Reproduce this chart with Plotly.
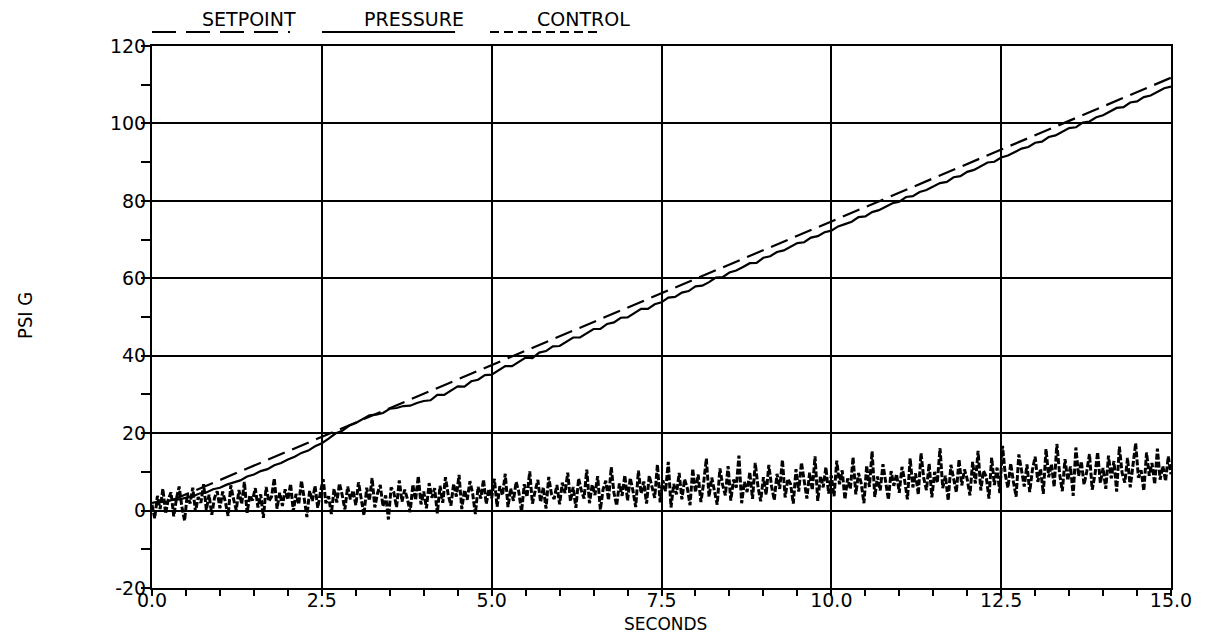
import plotly.graph_objects as go

# ---------------- data ----------------
setpoint_t = [0.3, 2.5, 5.0, 7.5, 10.0, 12.5, 15.0]
setpoint_v = [2.7, 19.0, 37.6, 56.1, 74.7, 93.2, 111.8]

PRESSURE_DT = 0.1
pressure_v = [
    2.0, 2.3, 2.2, 2.8, 2.9, 3.4, 3.7, 4.4, 4.7, 5.5,
    5.9, 6.7, 7.2, 7.8, 8.8, 9.3, 10.2, 10.7, 11.7, 12.3,
    13.2, 13.9, 14.9, 15.5, 16.6, 17.4, 18.6, 19.9, 20.6, 21.9,
    22.6, 23.7, 24.6, 24.8, 25.2, 26.3, 26.5, 27.0, 27.1, 27.8,
    28.3, 28.5, 29.9, 29.9, 31.1, 32.1, 32.0, 33.4, 33.8, 35.0,
    35.1, 36.1, 37.3, 37.3, 38.5, 39.5, 39.4, 40.8, 41.2, 42.4,
    42.5, 43.5, 44.7, 44.7, 45.9, 46.9, 46.9, 48.2, 48.6, 49.8,
    49.9, 51.0, 52.1, 52.1, 53.3, 53.8, 55.0, 55.2, 56.3, 56.7,
    57.9, 58.1, 59.0, 60.2, 60.3, 61.5, 62.0, 62.9, 63.9, 64.0,
    65.3, 65.7, 66.8, 67.2, 68.1, 69.1, 69.3, 70.5, 70.9, 71.9,
    72.3, 73.4, 74.0, 74.6, 75.8, 76.0, 77.1, 77.6, 78.5, 79.4,
    79.8, 81.0, 81.2, 82.3, 82.8, 83.7, 84.6, 84.9, 86.1, 86.4,
    87.5, 88.0, 88.9, 89.9, 90.1, 91.2, 91.7, 92.6, 93.5, 93.9,
    95.0, 95.3, 96.5, 96.9, 97.8, 98.8, 99.0, 100.2, 100.5, 101.6,
    102.1, 103.0, 104.0, 104.2, 105.4, 105.7, 106.8, 107.2, 108.2, 109.1,
    109.5,
]

CONTROL_DT = 0.04
control_v = [
    1.5, -2.0, 3.8, 0.4, 5.6, -0.8, 2.9, 4.7, -1.5, 3.1, 6.2, 0.9, -2.6, 4.4, 1.8, 5.9, -0.3, 3.5, 2.0, 6.8, 0.2, 4.1, -1.1, 3.3, 5.0,
    0.6, 4.9, 2.2, -1.4, 6.5, 3.0, 0.1, 5.3, 1.7, 7.4, -0.6, 3.9, 2.6, 5.8, 0.8, 4.2, -1.9, 6.1, 2.4, 3.6, 8.3, 0.5, 4.6, 1.2, 5.5,
    2.8, 6.9, -0.2, 4.3, 1.6, 7.7, 3.2, -1.7, 5.1, 2.5, 6.4, 0.7, 4.8, 8.1, 1.9, 3.7, -0.9, 5.6, 2.1, 7.0, 4.0, 0.3, 6.2, 2.9, 5.2,
    1.4, 7.3, 3.4, -1.2, 5.9, 2.6, 8.4, 0.8, 4.5, 6.6, 1.1, 3.9, -2.3, 6.0, 4.7, 0.9, 7.8, 2.3, 5.4, 3.0, -0.4, 6.7, 2.7, 8.9, 1.6,
    4.9, 0.6, 7.1, 3.3, 5.8, -0.7, 6.4, 2.0, 8.6, 4.1, 1.3, 6.9, 3.6, 9.2, 0.4, 5.3, 2.8, 7.6, 4.4, -0.9, 6.1, 3.1, 8.0, 1.7, 5.6,
    3.2, 8.2, 1.0, 6.3, 4.0, 9.5, 0.9, 5.7, 2.5, 7.4, 4.8, -0.3, 6.8, 3.5, 10.1, 1.8, 5.1, 7.9, 2.2, 6.0, 0.5, 8.7, 4.3, 3.0, 6.6,
    1.6, 7.2, 4.5, 9.8, 2.4, 6.1, 0.7, 8.3, 5.2, 3.1, 10.6, 1.9, 6.7, 4.0, 8.9, 0.2, 5.5, 7.7, 2.7, 11.2, 4.6, 1.3, 7.0, 3.8, 9.1,
    2.6, 8.4, 5.1, 0.9, 10.3, 4.4, 7.5, 1.8, 9.0, 6.2, 3.3, 11.9, 2.1, 7.8, 5.0, 12.6, 0.8, 6.9, 4.2, 9.7, 2.9, 8.1, 5.8, 1.4, 10.8,
    4.7, 9.3, 2.2, 7.1, 13.4, 3.6, 8.5, 5.4, 1.5, 10.9, 6.6, 3.9, 11.5, 2.6, 8.0, 5.9, 14.2, 1.9, 7.4, 4.8, 9.9, 3.0, 12.3, 6.2, 2.4,
    8.6, 4.1, 11.8, 6.3, 2.7, 9.5, 5.6, 13.1, 3.4, 8.2, 6.9, 1.8, 10.7, 4.9, 12.4, 7.6, 3.1, 9.8, 5.3, 14.0, 2.5, 8.9, 6.0, 11.2, 4.4,
    9.1, 3.7, 12.9, 6.8, 10.4, 2.9, 8.3, 5.5, 13.8, 4.2, 9.7, 7.0, 1.9, 11.6, 6.1, 15.3, 3.5, 8.8, 5.2, 12.0, 7.4, 2.8, 10.2, 6.4, 9.4,
    4.6, 11.3, 7.7, 2.9, 13.5, 6.0, 9.6, 4.1, 14.8, 8.4, 5.3, 12.1, 3.4, 10.0, 7.2, 16.1, 5.8, 9.0, 2.6, 11.8, 7.9, 4.7, 13.2, 6.5, 10.6,
    8.1, 3.9, 12.6, 7.0, 15.4, 5.2, 10.3, 8.8, 3.1, 13.7, 6.6, 11.1, 4.5, 16.7, 9.3, 5.9, 12.2, 7.5, 3.6, 14.5, 9.9, 6.2, 11.9, 4.8, 10.5,
    13.9, 7.4, 10.8, 4.3, 15.9, 8.6, 12.0, 6.1, 17.2, 9.5, 5.0, 13.3, 7.8, 11.4, 3.8, 16.3, 8.9, 12.7, 6.7, 10.1, 14.6, 5.4, 9.2, 15.1, 7.1,
    11.0, 5.6, 14.2, 8.3, 12.8, 4.9, 16.5, 9.7, 7.2, 13.6, 6.0, 11.7, 17.4, 8.5, 10.4, 5.1, 15.0, 9.0, 12.3, 6.8, 16.0, 8.0, 11.5, 7.6, 14.0,
    9.4,
]

x_tickvals = [0.0, 2.5, 5.0, 7.5, 10.0, 12.5, 15.0]
x_ticktext = ["0.0", "2.5", "5.0", "7.5", "10.0", "12.5", "15.0"]
y_tickvals = [-20, 0, 20, 40, 60, 80, 100, 120]
y_ticktext = ["-20", "0", "20", "40", "60", "80", "100", "120"]

legend_labels = ["SETPOINT", "PRESSURE", "CONTROL"]

pressure_t = [round(i * PRESSURE_DT, 3) for i in range(len(pressure_v))]
control_t = [round(i * CONTROL_DT, 3) for i in range(len(control_v))]

FONT = "DejaVu Sans"

fig = go.Figure()
fig.add_trace(go.Scatter(x=control_t, y=control_v, mode="lines", name=legend_labels[2],
                         line=dict(color="black", width=3.0, dash="6px,2px")))
fig.add_trace(go.Scatter(x=setpoint_t, y=setpoint_v, mode="lines", name=legend_labels[0],
                         line=dict(color="black", width=2.2, dash="18px,8px")))
fig.add_trace(go.Scatter(x=pressure_t, y=pressure_v, mode="lines", name=legend_labels[1],
                         line=dict(color="black", width=2.2)))

axis_common = dict(showline=True, linecolor="black", linewidth=2, mirror=True,
                   showgrid=True, gridcolor="black", gridwidth=1.6, zeroline=False)

fig.update_xaxes(range=[0, 15], tickmode="array", tickvals=x_tickvals, ticktext=x_ticktext,
                 ticks="", ticklabelstandoff=-6,
                 tickfont=dict(family=FONT, size=19, color="black"),
                 minor=dict(dtick=0.5, ticks="outside", ticklen=6, tickwidth=1.5,
                            tickcolor="black", showgrid=False),
                 **axis_common)
fig.update_yaxes(range=[-20, 120], tickmode="array", tickvals=y_tickvals, ticktext=y_ticktext,
                 ticks="", tickfont=dict(family=FONT, size=19, color="black"),
                 minor=dict(dtick=10, ticks="outside", ticklen=9, tickwidth=1.5,
                            tickcolor="black", showgrid=False),
                 **axis_common)

# legend drawn in the plotter style: text above a sample line
legend_text_x = [0.0952, 0.2571, 0.4235]
legend_line_x = [(0.0, 0.1354), (0.1668, 0.2974), (0.3317, 0.4377)]
legend_dash = ["24px,10px", "solid", "9px,5px"]
annotations = []
shapes = []
for lab, tx, (x0, x1), d in zip(legend_labels, legend_text_x, legend_line_x, legend_dash):
    annotations.append(dict(text=lab, x=tx, y=1.05, xref="paper", yref="paper",
                            showarrow=False, xanchor="center", yanchor="middle",
                            font=dict(family=FONT, size=19, color="black")))
    shapes.append(dict(type="line", xref="paper", yref="paper", x0=x0, x1=x1,
                       y0=1.0258, y1=1.0258, line=dict(color="black", width=2.2, dash=d)))

annotations.append(dict(text="SECONDS", x=0.5044, y=-0.0665, xref="paper", yref="paper",
                        showarrow=False, xanchor="center", yanchor="middle",
                        font=dict(family=FONT, size=17, color="black")))
annotations.append(dict(text="PSI G", x=-0.1246, y=0.502, xref="paper", yref="paper",
                        showarrow=False, xanchor="center", yanchor="middle", textangle=-90,
                        font=dict(family="DejaVu Sans Condensed, " + FONT, size=20, color="black")))

fig.update_layout(width=1225, height=637, margin=dict(l=152, r=54, t=46, b=49),
                  paper_bgcolor="white", plot_bgcolor="white", showlegend=False,
                  annotations=annotations, shapes=shapes)

# remove the browser's default 8px body margin so the figure fills the window exactly
fig.write_html("out.html", config={"displayModeBar": False},
               post_script="document.body.style.margin='0';")
